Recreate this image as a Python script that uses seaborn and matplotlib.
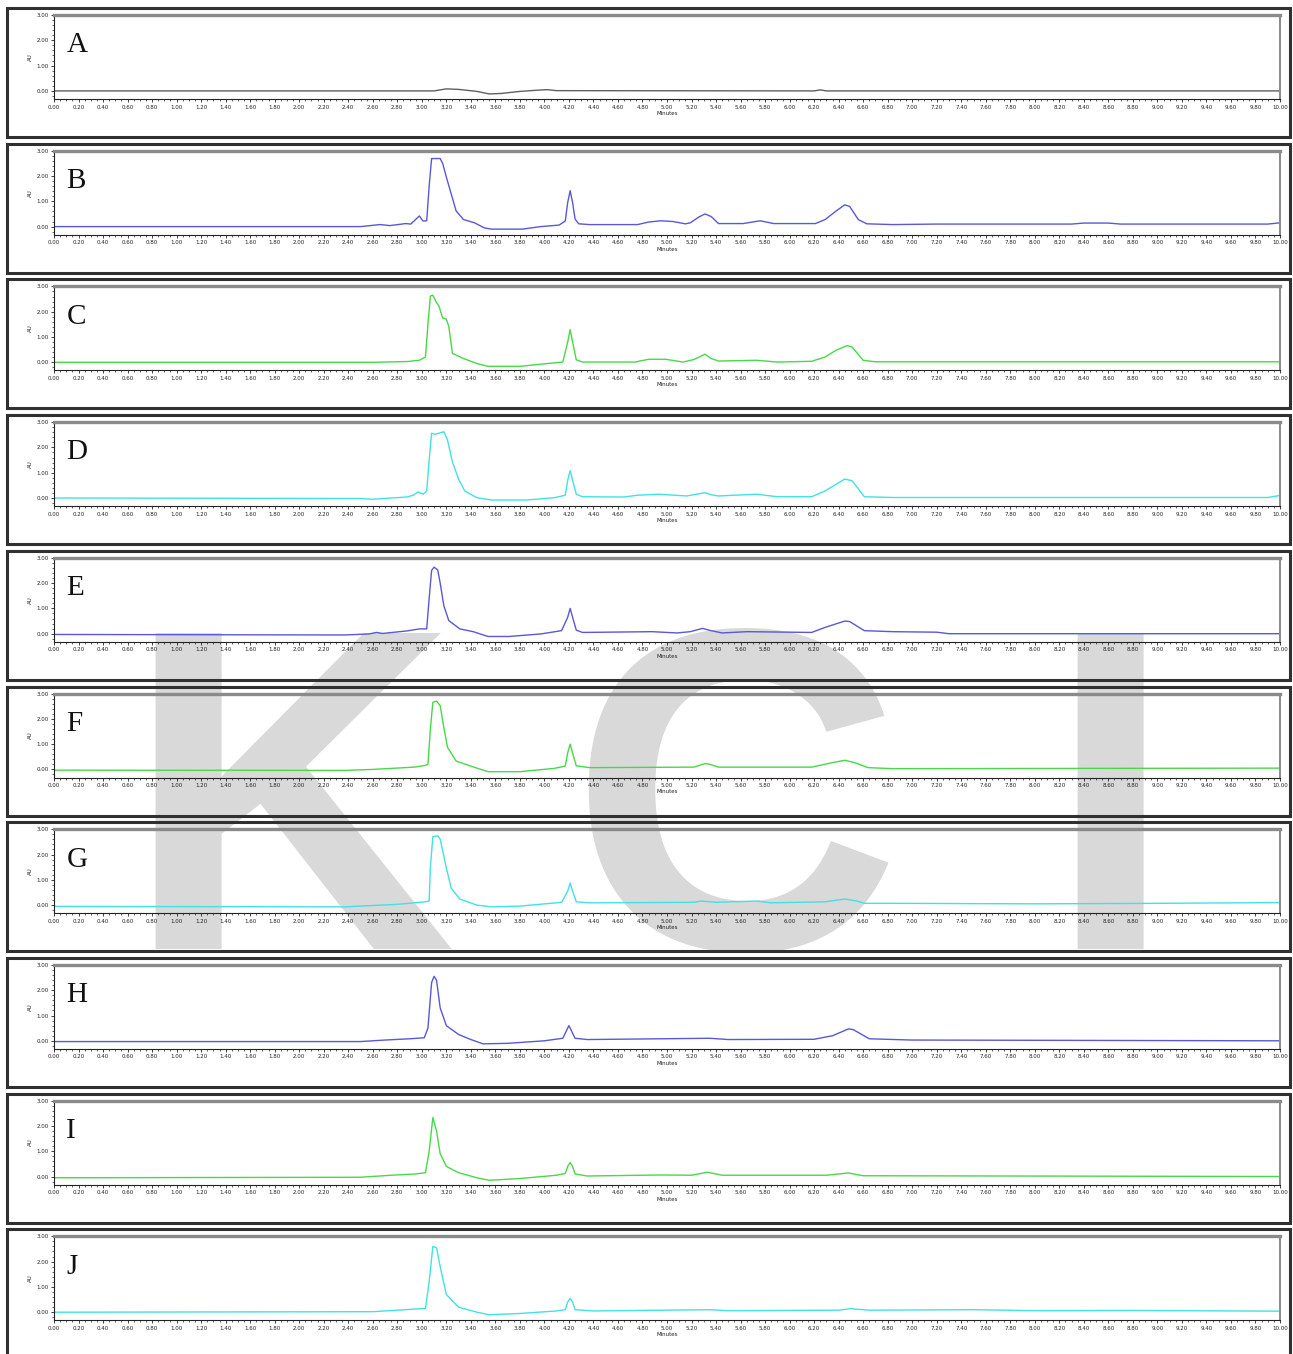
import numpy as np
import seaborn as sns
import matplotlib.pyplot as plt
from matplotlib.patches import Rectangle
from matplotlib.ticker import MultipleLocator, FormatStrFormatter

sns.set_theme(style="white")

# Chromatogram traces (time in minutes, absorbance in AU)
t_A = [0.0, 3.1, 3.2, 3.3, 3.45, 3.55, 3.65, 3.8, 3.95, 4.02, 4.1, 6.2, 6.25, 6.3, 10.0]
au_A = [0.0, 0.0, 0.08, 0.06, -0.02, -0.12, -0.1, -0.02, 0.03, 0.05, 0.01, 0.0, 0.04, 0.0, 0.0]

t_B = [0.0, 2.0, 2.5, 2.6, 2.66, 2.74, 2.87, 2.91, 2.98, 3.01, 3.04, 3.06, 3.08, 3.15, 3.17,
       3.20, 3.24, 3.28, 3.34, 3.43, 3.51, 3.57, 3.82, 3.97, 4.12, 4.17, 4.19, 4.21, 4.23, 4.25,
       4.28, 4.37, 4.76, 4.85, 4.95, 5.05, 5.15, 5.19, 5.26, 5.31, 5.36, 5.42, 5.62, 5.76, 5.87,
       6.21, 6.29, 6.38, 6.45, 6.49, 6.56, 6.63, 6.84, 7.2, 8.3, 8.4, 8.6, 8.7, 9.9, 10.0]
au_B = [0.0, 0.0, 0.0, 0.05, 0.08, 0.04, 0.12, 0.1, 0.42, 0.22, 0.23, 1.6, 2.69, 2.69, 2.5,
        1.96, 1.29, 0.62, 0.28, 0.15, -0.05, -0.1, -0.1, 0.0, 0.06, 0.22, 0.95, 1.42, 0.95, 0.3,
        0.11, 0.08, 0.08, 0.18, 0.23, 0.2, 0.11, 0.15, 0.38, 0.5, 0.4, 0.12, 0.12, 0.23, 0.12,
        0.12, 0.28, 0.62, 0.86, 0.8, 0.28, 0.11, 0.08, 0.1, 0.1, 0.14, 0.14, 0.1, 0.1, 0.15]

t_C = [0.0, 2.5, 2.6, 2.88, 2.98, 3.03, 3.05, 3.07, 3.09, 3.12, 3.14, 3.17, 3.20, 3.22, 3.25,
       3.34, 3.45, 3.54, 3.80, 4.02, 4.15, 4.19, 4.21, 4.23, 4.26, 4.31, 4.74, 4.85, 4.99, 5.13,
       5.22, 5.31, 5.36, 5.42, 5.73, 5.90, 6.18, 6.29, 6.38, 6.47, 6.51, 6.60, 6.70, 10.0]
au_C = [0.0, 0.0, 0.0, 0.03, 0.08, 0.21, 1.5, 2.62, 2.65, 2.36, 2.22, 1.75, 1.71, 1.42, 0.35,
        0.15, -0.05, -0.16, -0.16, -0.05, 0.01, 0.8, 1.29, 0.8, 0.1, 0.01, 0.01, 0.12, 0.12, 0.01,
        0.11, 0.32, 0.15, 0.05, 0.08, 0.01, 0.04, 0.21, 0.48, 0.66, 0.6, 0.08, 0.02, 0.02]

t_D = [0.0, 2.5, 2.6, 2.88, 2.93, 2.97, 3.01, 3.04, 3.06, 3.08, 3.11, 3.14, 3.18, 3.21, 3.25,
       3.30, 3.35, 3.45, 3.57, 3.85, 4.08, 4.17, 4.19, 4.21, 4.23, 4.26, 4.31, 4.65, 4.76, 4.93,
       5.16, 5.31, 5.36, 5.42, 5.73, 5.90, 6.18, 6.29, 6.45, 6.51, 6.61, 6.84, 9.9, 10.0]
au_D = [0.0, -0.02, -0.05, 0.04, 0.11, 0.24, 0.15, 0.28, 1.5, 2.56, 2.52, 2.56, 2.62, 2.29, 1.42,
        0.75, 0.28, 0.01, -0.08, -0.08, 0.01, 0.11, 0.7, 1.08, 0.7, 0.15, 0.05, 0.04, 0.11, 0.15,
        0.08, 0.21, 0.13, 0.08, 0.15, 0.05, 0.05, 0.28, 0.75, 0.68, 0.05, 0.02, 0.02, 0.1]

t_E = [0.0, 2.37, 2.57, 2.63, 2.68, 2.88, 2.98, 3.04, 3.06, 3.08, 3.10, 3.13, 3.15, 3.18, 3.22,
       3.31, 3.42, 3.54, 3.71, 3.97, 4.14, 4.19, 4.21, 4.23, 4.26, 4.31, 4.88, 5.08, 5.19, 5.29,
       5.36, 5.45, 5.65, 6.18, 6.29, 6.45, 6.49, 6.61, 6.84, 7.2, 7.3, 10.0]
au_E = [-0.03, -0.05, -0.01, 0.05, 0.01, 0.11, 0.19, 0.19, 1.4, 2.5, 2.63, 2.52, 2.0, 1.1, 0.52,
        0.19, 0.08, -0.11, -0.11, -0.01, 0.12, 0.65, 1.0, 0.65, 0.14, 0.05, 0.08, 0.03, 0.08, 0.21,
        0.12, 0.03, 0.08, 0.05, 0.25, 0.5, 0.48, 0.12, 0.08, 0.06, 0.0, 0.0]

t_F = [0.0, 2.37, 2.60, 2.94, 3.03, 3.05, 3.07, 3.09, 3.12, 3.15, 3.18, 3.21, 3.28, 3.40, 3.54,
       3.80, 4.08, 4.17, 4.19, 4.21, 4.23, 4.26, 4.37, 5.22, 5.31, 5.35, 5.42, 6.18, 6.35, 6.45,
       6.53, 6.64, 6.84, 10.0]
au_F = [-0.03, -0.04, 0.0, 0.09, 0.16, 0.2, 1.6, 2.65, 2.7, 2.52, 1.65, 0.87, 0.33, 0.13, -0.09,
        -0.09, 0.04, 0.13, 0.65, 1.0, 0.65, 0.14, 0.07, 0.09, 0.23, 0.2, 0.09, 0.09, 0.27, 0.36,
        0.27, 0.07, 0.03, 0.05]

t_G = [0.0, 2.37, 2.80, 3.03, 3.06, 3.07, 3.09, 3.13, 3.15, 3.20, 3.24, 3.31, 3.45, 3.57, 3.80,
       4.14, 4.19, 4.21, 4.23, 4.26, 4.37, 5.22, 5.28, 5.40, 5.73, 5.85, 6.29, 6.45, 6.55, 6.61,
       6.84, 8.0, 9.0, 10.0]
au_G = [-0.05, -0.07, 0.03, 0.13, 0.16, 1.5, 2.7, 2.74, 2.6, 1.47, 0.67, 0.24, 0.0, -0.07, -0.04,
        0.11, 0.55, 0.87, 0.55, 0.13, 0.09, 0.11, 0.16, 0.11, 0.16, 0.09, 0.13, 0.24, 0.16, 0.07,
        0.07, 0.05, 0.07, 0.1]

t_H = [0.0, 2.5, 2.7, 2.9, 3.02, 3.05, 3.08, 3.10, 3.12, 3.15, 3.2, 3.3, 3.4, 3.5, 3.7,
       4.0, 4.15, 4.18, 4.2, 4.22, 4.25, 4.35, 4.95, 5.35, 5.5, 6.2, 6.35, 6.48, 6.52, 6.65,
       7.0, 10.0]
au_H = [-0.03, -0.03, 0.03, 0.08, 0.12, 0.5, 2.3, 2.55, 2.4, 1.3, 0.6, 0.25, 0.05, -0.12, -0.1,
        0.0, 0.1, 0.4, 0.6, 0.4, 0.1, 0.05, 0.08, 0.1, 0.05, 0.06, 0.2, 0.47, 0.44, 0.08,
        0.03, 0.0]

t_I = [0.0, 2.5, 2.75, 2.95, 3.03, 3.06, 3.09, 3.12, 3.15, 3.2, 3.3, 3.45, 3.55, 3.8, 4.1,
       4.17, 4.19, 4.21, 4.23, 4.25, 4.35, 4.95, 5.2, 5.33, 5.45, 6.3, 6.48, 6.6, 10.0]
au_I = [-0.05, -0.03, 0.05, 0.1, 0.15, 1.0, 2.33, 1.8, 0.9, 0.4, 0.15, -0.05, -0.15, -0.08, 0.05,
        0.12, 0.4, 0.55, 0.4, 0.1, 0.02, 0.06, 0.05, 0.17, 0.05, 0.05, 0.14, 0.03, 0.0]

t_J = [0.0, 2.6, 2.8, 3.03, 3.06, 3.09, 3.12, 3.15, 3.2, 3.3, 3.45, 3.55, 3.8, 4.1, 4.17,
       4.19, 4.21, 4.23, 4.25, 4.4, 5.35, 5.5, 6.4, 6.5, 6.65, 7.5, 8.0, 8.8, 10.0]
au_J = [0.0, 0.02, 0.08, 0.15, 1.2, 2.6, 2.55, 1.8, 0.7, 0.2, 0.0, -0.1, -0.05, 0.05, 0.1,
        0.4, 0.55, 0.4, 0.1, 0.05, 0.1, 0.06, 0.08, 0.14, 0.08, 0.1, 0.06, 0.07, 0.04]

labels = ["A", "B", "C", "D", "E", "F", "G", "H", "I", "J"]
times = [t_A, t_B, t_C, t_D, t_E, t_F, t_G, t_H, t_I, t_J]
values = [au_A, au_B, au_C, au_D, au_E, au_F, au_G, au_H, au_I, au_J]

BLUE, GREEN, CYAN = "#5858d8", "#48d848", "#40e2e2"
colors = ["#606060", BLUE, GREEN, CYAN, BLUE, GREEN, CYAN, BLUE, GREEN, CYAN]

W, H = 1293, 1354
fig = plt.figure(figsize=(W / 100, H / 100), dpi=100)
fig.patch.set_facecolor("white")

# faint watermark behind the panels
wm = dict(fontsize=330, fontweight="bold", color="#d9d9d9", family="Liberation Sans",
          ha="center", va="center", zorder=-5)
fig.text(290 / W, 1 - 830 / H, "K", **wm)
fig.text(735 / W, 1 - 830 / H, "C", **wm)
fig.text(1110 / W, 1 - 830 / H, "I", **wm)

for i, (lab, t, au, col) in enumerate(zip(labels, times, values, colors)):
    top = 8 + i * 135.7
    fig.add_artist(Rectangle((7 / W, 1 - (top + 129) / H), 1283 / W, 129 / H,
                             transform=fig.transFigure, fill=False,
                             edgecolor="#303030", linewidth=2.2))

    ax = fig.add_axes([54 / W, 1 - (top + 91) / H, 1226 / W, 84 / H])
    ax.patch.set_visible(False)
    sns.lineplot(x=t, y=au, ax=ax, color=col, linewidth=1.0, sort=False)

    ax.set_xlim(0, 10)
    ax.set_ylim(-0.32, 3.0)
    ax.xaxis.set_major_locator(MultipleLocator(0.2))
    ax.xaxis.set_minor_locator(MultipleLocator(0.05))
    ax.yaxis.set_major_locator(MultipleLocator(1.0))
    ax.yaxis.set_minor_locator(MultipleLocator(0.2))
    ax.xaxis.set_major_formatter(FormatStrFormatter("%.2f"))
    ax.yaxis.set_major_formatter(FormatStrFormatter("%.2f"))
    ax.tick_params(axis="both", which="major", labelsize=4, length=2.5, width=0.6,
                   pad=1.5, colors="#222222", direction="out", bottom=True, left=True)
    ax.tick_params(axis="both", which="minor", length=1.2, width=0.5,
                   direction="out", bottom=True, left=True, colors="#222222")
    ax.set_xlabel("Minutes", fontsize=4, labelpad=1, color="#222222")
    ax.set_ylabel("AU", fontsize=4, labelpad=2, color="#222222")

    for side in ["left", "bottom"]:
        ax.spines[side].set_color("#222222")
        ax.spines[side].set_linewidth(0.8)
    ax.spines["top"].set_color("#8a8a8a")
    ax.spines["top"].set_linewidth(2.4)
    ax.spines["right"].set_color("#8a8a8a")
    ax.spines["right"].set_linewidth(1.4)

    ax.text(0.1, 1.8, lab, fontsize=21, family="Liberation Serif", color="#111111",
            ha="left", va="center")

fig.savefig("out.png", dpi=100)
